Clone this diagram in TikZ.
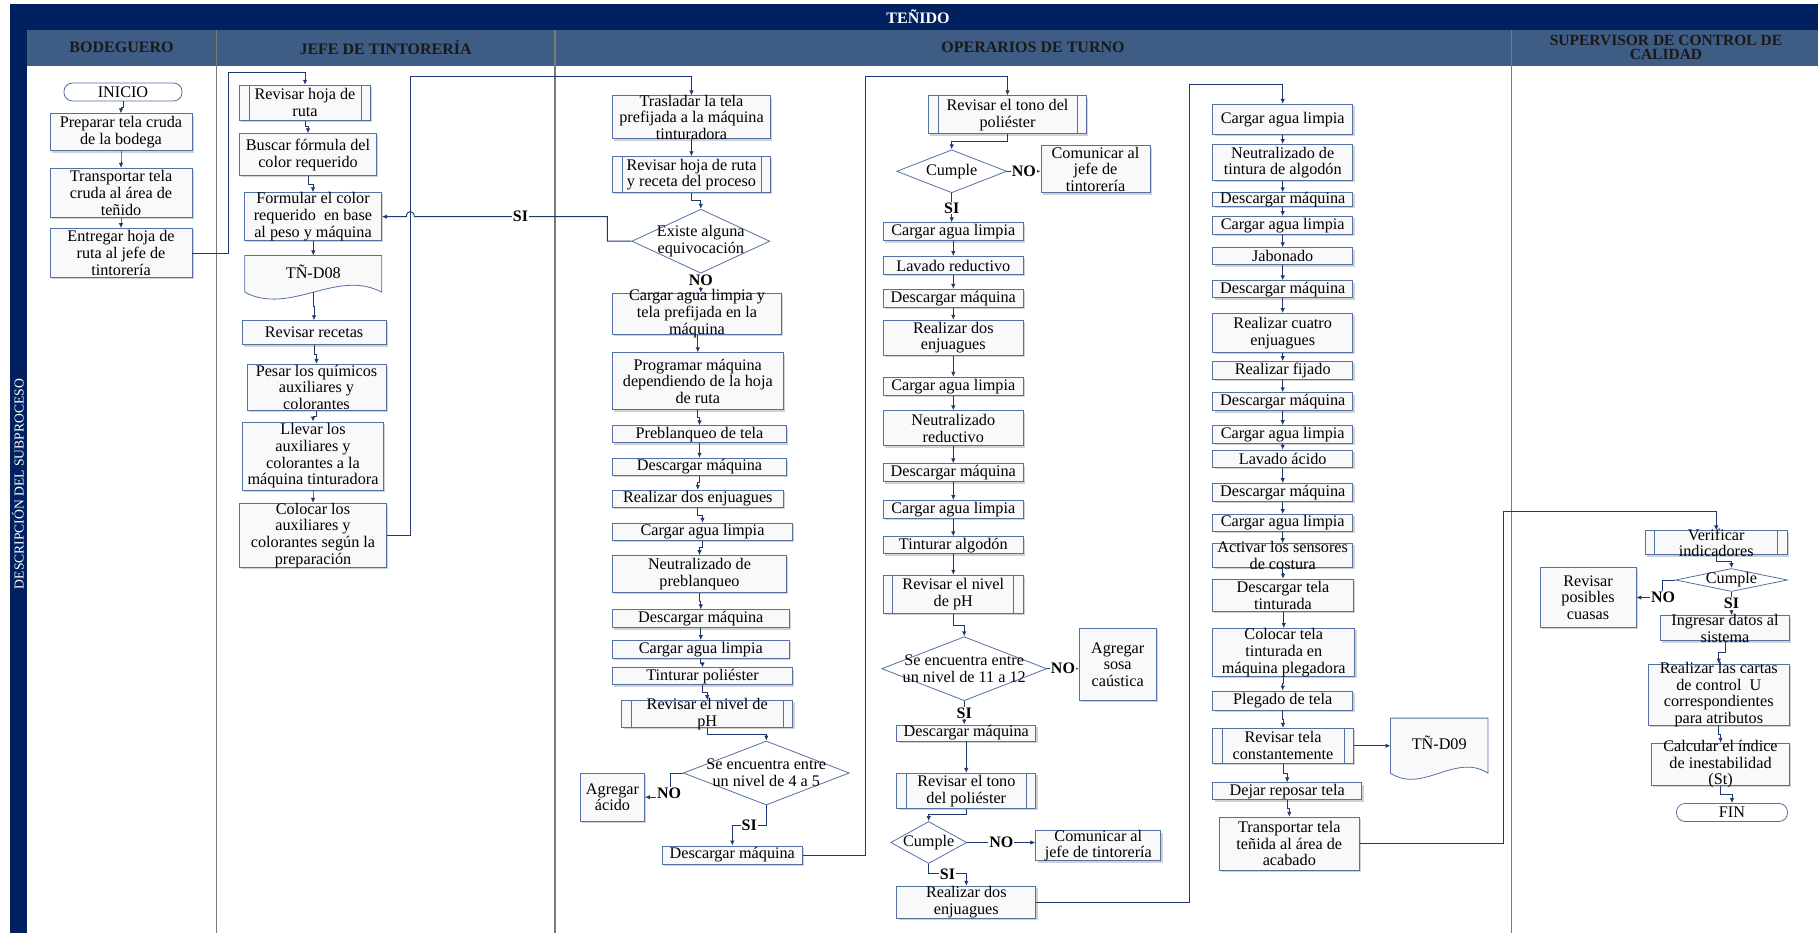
\documentclass[tikz,border=0pt]{standalone}
\usepackage{fontspec}
\setmainfont{Liberation Serif}
\usetikzlibrary{arrows.meta,shapes.geometric,shadows,calc}

\definecolor{navy}{RGB}{0,32,96}
\definecolor{headblue}{RGB}{62,92,132}
\definecolor{boxline}{RGB}{84,113,163}
\definecolor{flow}{RGB}{31,56,110}
\definecolor{lanegray}{RGB}{118,126,112}
\definecolor{boxfill}{RGB}{249,249,250}

% process box: name, x, y, width, height, text
\newcommand\procnode[6]{%
  \node[box, minimum width=#4pt, minimum height=#5pt] (#1) at (#2,#3) {};
  \node[txt] (#1-t) at (#1.center) {#6};}
% predefined process (double side bars)
\newcommand\prednode[6]{%
  \node[pred, minimum width=#4pt, minimum height=#5pt] (#1) at (#2,#3) {};
  \node[txt] (#1-t) at (#1.center) {#6};}
% decision diamond
\newcommand\decnode[6]{%
  \node[decision, minimum width=#4pt, minimum height=#5pt] (#1) at (#2,#3) {};
  \node[txt] (#1-t) at (#1.center) {#6};}
% start / end terminal
\newcommand\termnode[6]{%
  \node[term, minimum width=#4pt, minimum height=#5pt] (#1) at (#2,#3) {};
  \node[txt] (#1-t) at (#1.center) {#6};}
% document with wavy bottom: name, x, y, width, height, wave, text
\newcommand\docshape[7]{%
  \node[rectangle, inner sep=0pt, minimum width=#4pt, minimum height=#5pt] (#1) at (#2,#3) {};
  \filldraw[docline] (#1.south west) -- (#1.north west) -- (#1.north east) -- (#1.south east)
    .. controls ($(#1.south east)+(-0.33*#4,-#6)$) and ($(#1.south west)+(0.33*#4,#6)$) .. (#1.south west) -- cycle;
  \node[txt] (#1-t) at ($(#1.center)+(0,-2.5)$) {#7};}
% straight-down connector with a small jog half way
\newcommand\link[2]{\draw[arr] (#1.south) |- ($(#1.south)!0.5!(#2.north)$) -| (#2.north);}

\begin{document}
\begin{tikzpicture}[x=1pt,y=-1pt,
  box/.style={rectangle, draw=boxline, line width=0.8pt, fill=boxfill, inner sep=0pt,
    drop shadow={shadow xshift=1.8pt, shadow yshift=-1.8pt, fill=black!40, opacity=0.45}},
  pred/.style={box, path picture={
      \draw[boxline, line width=0.8pt] ([xshift=9.5pt]path picture bounding box.north west) -- ([xshift=9.5pt]path picture bounding box.south west);
      \draw[boxline, line width=0.8pt] ([xshift=-9.5pt]path picture bounding box.north east) -- ([xshift=-9.5pt]path picture bounding box.south east);}},
  decision/.style={diamond, draw=boxline, line width=0.8pt, fill=white, inner sep=0pt},
  term/.style={rectangle, rounded corners=8.5pt, draw=boxline, line width=0.8pt, fill=white, inner sep=0pt},
  docline/.style={draw=boxline, line width=0.8pt, fill=boxfill},
  txt/.style={align=center, inner sep=0pt, text=black, font=\fontsize{16.2}{16.7}\selectfont},
  lanehead/.style={align=center, inner sep=0pt, text=black!90, font=\bfseries\fontsize{16}{14}\selectfont},
  arr/.style={draw=flow, line width=0.9pt, -{Latex[length=5pt,width=4.5pt]}},
  lbl/.style={fill=white, inner sep=0.8pt, text=black, font=\bfseries\fontsize{16}{16}\selectfont},
  laneline/.style={draw=lanegray, line width=1.2pt}]

\useasboundingbox (0,0) rectangle (1818,933);

% ---------- frame, title and lane headers ----------
\fill[navy] (9.6,4) rectangle (1818,30);
\fill[navy] (9.6,30) rectangle (26.8,933);
\fill[headblue] (26.8,30) rectangle (1818,65);
\draw[black!65, line width=0.8pt] (26.8,65) -- (1818,65);
\draw[laneline] (216.2,30) -- (216.2,933);
\draw[laneline] (555,30) -- (555,933);
\draw[laneline] (1511.5,30) -- (1511.5,933);

\node[text=white, font=\bfseries\fontsize{16}{16}\selectfont] (title) at (918,17) {TEÑIDO};
\node[lanehead] (h1) at (121.5,47.5) {BODEGUERO};
\node[lanehead] (h2) at (385.6,47.5) {JEFE DE TINTORERÍA};
\node[lanehead] (h3) at (1033,47.5) {OPERARIOS DE TURNO};
\node[lanehead, font=\bfseries\fontsize{15.5}{14}\selectfont] (h4) at (1666,47.5) {SUPERVISOR DE CONTROL DE\\CALIDAD};
\node[rotate=90, text=white, font=\fontsize{13.6}{14}\selectfont] (side) at (17.8,484) {DESCRIPCIÓN DEL SUBPROCESO};

% ---------- Bodeguero ----------
\termnode{inicio}{123}{92}{118}{18}{INICIO}
\procnode{b1}{121}{132.3}{142}{37}{Preparar tela cruda\\de la bodega}
\procnode{b2}{121}{192.8}{142}{49}{Transportar tela\\cruda al área de\\teñido}
\procnode{b3}{121}{253}{142}{49}{Entregar hoja de\\ruta al jefe de\\tintorería}

% ---------- Jefe de tintorería ----------
\prednode{j1}{305}{102.7}{131}{35}{Revisar hoja de\\ruta}
\procnode{j2}{308}{154.7}{137}{42}{Buscar fórmula del\\color requerido}
\procnode{j3}{313}{216.7}{137}{48}{Formular el color\\requerido~ en base\\al peso y máquina}
\docshape{d08}{313.3}{273.85}{136.6}{36.3}{24}{TÑ-D08}
\procnode{j5}{314}{332.7}{144}{24}{Revisar recetas}
\procnode{j6}{316.5}{387.3}{139}{46}{Pesar los químicos\\auxiliares y\\colorantes}
\procnode{j7}{313}{456}{141}{68}{Llevar los\\auxiliares y\\colorantes a la\\máquina tinturadora}
\procnode{j8}{313}{535.3}{147}{64}{Colocar los\\auxiliares y\\colorantes según la\\preparación}

% ---------- Operarios: first column ----------
\procnode{o1}{691.5}{117.3}{158}{43}{Trasladar la tela\\prefijada a la máquina\\tinturadora}
\prednode{o2}{691.5}{174.7}{158}{36}{Revisar hoja de ruta\\y receta del proceso}
\decnode{o3}{700.8}{241.2}{138}{64}{Existe alguna\\equivocación}
\procnode{o4}{697}{313.7}{169}{41}{Cargar agua limpia y\\tela prefijada en la\\máquina}
\procnode{o5}{697.8}{381.3}{171}{57}{Programar máquina\\dependiendo de la hoja\\de ruta}
\procnode{o6}{699.5}{434.3}{174}{17}{Preblanqueo de tela}
\procnode{o7}{699.5}{466.7}{174}{17}{Descargar máquina}
\procnode{o8}{697.8}{498.7}{171}{17}{Realizar dos enjuagues}
\procnode{o9}{702.5}{531.7}{180}{17}{Cargar agua limpia}
\procnode{o10}{699.5}{574}{174}{37}{Neutralizado de\\preblanqueo}
\procnode{o11}{700.8}{618.8}{177}{18}{Descargar máquina}
\procnode{o12}{700.8}{649.5}{177}{18}{Cargar agua limpia}
\procnode{o13}{702.5}{676.3}{180}{17}{Tinturar poliéster}
\prednode{o14}{707.2}{714}{171}{27}{Revisar el nivel de\\pH}
\decnode{o15}{766.3}{773}{166}{64}{Se encuentra entre\\un nivel de 4 a 5}
\procnode{o16}{612.5}{797.2}{64}{48}{Agregar\\ácido}
\procnode{o17}{732.3}{855}{140}{18}{Descargar máquina}

% ---------- Operarios: second column ----------
\prednode{p1}{1007.5}{114.8}{158}{38}{Revisar el tono del\\poliéster}
\decnode{p2}{951.7}{171.3}{110}{43}{Cumple}
\procnode{p3}{1095.5}{169.3}{109}{47}{Comunicar al\\jefe de\\tintorería}
\procnode{p4}{953.3}{231.8}{140}{18}{Cargar agua limpia}
\procnode{p5}{953.3}{265.5}{140}{18}{Lavado reductivo}
\procnode{p6}{953.3}{298.3}{140}{18}{Descargar máquina}
\procnode{p7}{953.3}{337.7}{140}{35}{Realizar dos\\enjuagues}
\procnode{p8}{953.3}{386.2}{140}{18}{Cargar agua limpia}
\procnode{p9}{953.3}{428.3}{140}{35}{Neutralizado\\reductivo}
\procnode{p10}{953.3}{472.8}{140}{18}{Descargar máquina}
\procnode{p11}{953.3}{509.5}{140}{18}{Cargar agua limpia}
\procnode{p12}{953.3}{545.3}{140}{17}{Tinturar algodón}
\prednode{p13}{953.3}{594.2}{140}{38}{Revisar el nivel\\de pH}
\decnode{p14}{964.2}{668.7}{165}{64}{Se encuentra entre\\un nivel de 11 a 12}
\procnode{p15}{1117.7}{664.5}{77}{72}{Agregar\\sosa\\caústica}
\procnode{p16}{966.3}{733}{139}{16}{Descargar máquina}
\prednode{p17}{966.3}{790.8}{139}{35}{Revisar el tono\\del poliéster}
\decnode{p18}{928.7}{842.5}{76}{42}{Cumple}
\procnode{p19}{1098.3}{845.7}{125}{30}{Comunicar al\\jefe de tintorería}
\procnode{p20}{966.3}{902.2}{139}{32}{Realizar dos\\enjuagues}

% ---------- Operarios: third column ----------
\procnode{q1}{1282.7}{119.3}{140}{30}{Cargar agua limpia}
\procnode{q2}{1282.7}{162.5}{140}{36}{Neutralizado de\\tintura de algodón}
\procnode{q3}{1282.7}{199.7}{140}{14}{Descargar máquina}
\procnode{q4}{1282.7}{225.5}{140}{18}{Cargar agua limpia}
\procnode{q5}{1282.7}{256.3}{140}{17}{Jabonado}
\procnode{q6}{1282.7}{289.3}{140}{17}{Descargar máquina}
\procnode{q7}{1282.7}{333}{140}{39}{Realizar cuatro\\enjuagues}
\procnode{q8}{1282.7}{370.5}{140}{18}{Realizar fijado}
\procnode{q9}{1282.7}{401.7}{140}{18}{Descargar máquina}
\procnode{q10}{1282.7}{434.5}{140}{18}{Cargar agua limpia}
\procnode{q11}{1282.7}{458.7}{140}{17}{Lavado ácido}
\procnode{q12}{1282.7}{492.5}{140}{18}{Descargar máquina}
\procnode{q13}{1282.7}{523}{140}{17}{Cargar agua limpia}
\procnode{q14}{1282.7}{555.5}{140}{24}{Activar los sensores\\de costura}
\procnode{q15}{1283}{595.2}{141}{32}{Descargar tela\\tinturada}
\procnode{q16}{1283.8}{652.5}{142}{48}{Colocar tela\\tinturada en\\máquina plegadora}
\procnode{q17}{1282.7}{700.5}{140}{19}{Plegado de tela}
\prednode{q18}{1283}{745.8}{141}{35}{Revisar tela\\constantemente}
\docshape{d09}{1439.2}{745.65}{97}{54.7}{21}{TÑ-D09}
\procnode{q20}{1287.2}{791.3}{149}{17}{Dejar reposar tela}
\procnode{q21}{1289.3}{843.7}{140}{53}{Transportar tela\\teñida al área de\\acabado}

% ---------- Supervisor de control de calidad ----------
\prednode{s1}{1716.2}{542.8}{142}{24}{Verificar\\indicadores}
\decnode{s2}{1731.5}{580}{112}{23}{Cumple}
\procnode{s3}{1588}{597.5}{96}{60}{Revisar\\posibles\\cuasas}
\procnode{s4}{1725}{628.2}{129}{25}{Ingresar datos al\\sistema}
\procnode{s5}{1718.8}{694.5}{141}{61}{Realizar las cartas\\de control~ U\\correspondientes\\para atributos}
\procnode{s6}{1720.5}{764.2}{138}{42}{Calcular el índice\\de inestabilidad\\(St)}
\termnode{s7}{1732}{812.5}{111}{18}{FIN}

% ---------- connectors ----------
\link{inicio}{b1}
\link{b1}{b2}
\link{b2}{b3}
\draw[arr] (b3.east) -| (228.9,72.3) -| (j1.north);

\link{j1}{j2}
\link{j2}{j3}
\link{j3}{d08}
\link{d08}{j5}
\link{j5}{j6}
\link{j6}{j7}
\link{j7}{j8}
\draw[arr] (j8.east) -| (410.3,76) -| (o1.north);

\link{o1}{o2}
\link{o2}{o3}
\draw[arr] (o3.south) -- node[lbl, pos=0.36] (no1) {NO} (o3.south |- o4.north);
\draw[arr] (o3.west) -| (607.3,216.7) -- node[lbl, pos=0.45] (si1) {SI} (414.3,216.7)
  .. controls (414.3,209.8) and (406.3,209.8) .. (406.3,216.7) -- (j3.east);
\link{o4}{o5}
\link{o5}{o6}
\link{o6}{o7}
\link{o7}{o8}
\link{o8}{o9}
\link{o9}{o10}
\link{o10}{o11}
\link{o11}{o12}
\link{o12}{o13}
\link{o13}{o14}
\link{o14}{o15}
\draw[arr] (o15.west) -| (670.7,797.2) -- (o16.east);
\node[lbl] (no2) at (669,793) {NO};
\draw[arr] (o15.south) -- ++(0,20) -| node[lbl, pos=0.25] (si2) {SI} (o17.north);
\draw[arr] (o17.east) -| (865.3,76) -| (p1.north);

\link{p1}{p2}
\draw[arr] (p2.east) -- node[lbl] (no3) {NO} (p2.east -| p3.west);
\draw[arr] (p2.south) -- node[lbl] (si3) {SI} (p2.south |- p4.north);
\link{p4}{p5}
\link{p5}{p6}
\link{p6}{p7}
\link{p7}{p8}
\link{p8}{p9}
\link{p9}{p10}
\link{p10}{p11}
\link{p11}{p12}
\link{p12}{p13}
\link{p13}{p14}
\draw[arr] (p14.east) -- node[lbl] (no4) {NO} (p14.east -| p15.west);
\draw[arr] (p14.south) -- node[lbl] (si4) {SI} (p14.south |- p16.north);
\link{p16}{p17}
\link{p17}{p18}
\draw[arr] (p18.east) -- node[lbl] (no5) {NO} (p18.east -| p19.west);
\draw[arr] (p18.south) -- ++(0,10) -| node[lbl, pos=0.25] (si5) {SI} (p20.north);
\draw[arr] (p20.east) -| (1189.3,84.3) -| (q1.north);

\link{q1}{q2}
\link{q2}{q3}
\link{q3}{q4}
\link{q4}{q5}
\link{q5}{q6}
\link{q6}{q7}
\link{q7}{q8}
\link{q8}{q9}
\link{q9}{q10}
\link{q10}{q11}
\link{q11}{q12}
\link{q12}{q13}
\link{q13}{q14}
\link{q14}{q15}
\link{q15}{q16}
\link{q16}{q17}
\link{q17}{q18}
\draw[arr] (q18.east) -- (q18.east -| d09.west);
\link{q18}{q20}
\link{q20}{q21}
\draw[arr] (q21.east) -| (1503.3,511.7) -| (s1.north);

\link{s1}{s2}
\draw[arr] (s2.west) -| (1662.3,597.5) -- (s3.east);
\node[lbl] (no6) at (1663,597) {NO};
\draw[arr] (s2.south) -- node[lbl] (si6) {SI} (s2.south |- s4.north);
\link{s4}{s5}
\link{s5}{s6}
\link{s6}{s7}

\end{tikzpicture}
\end{document}
